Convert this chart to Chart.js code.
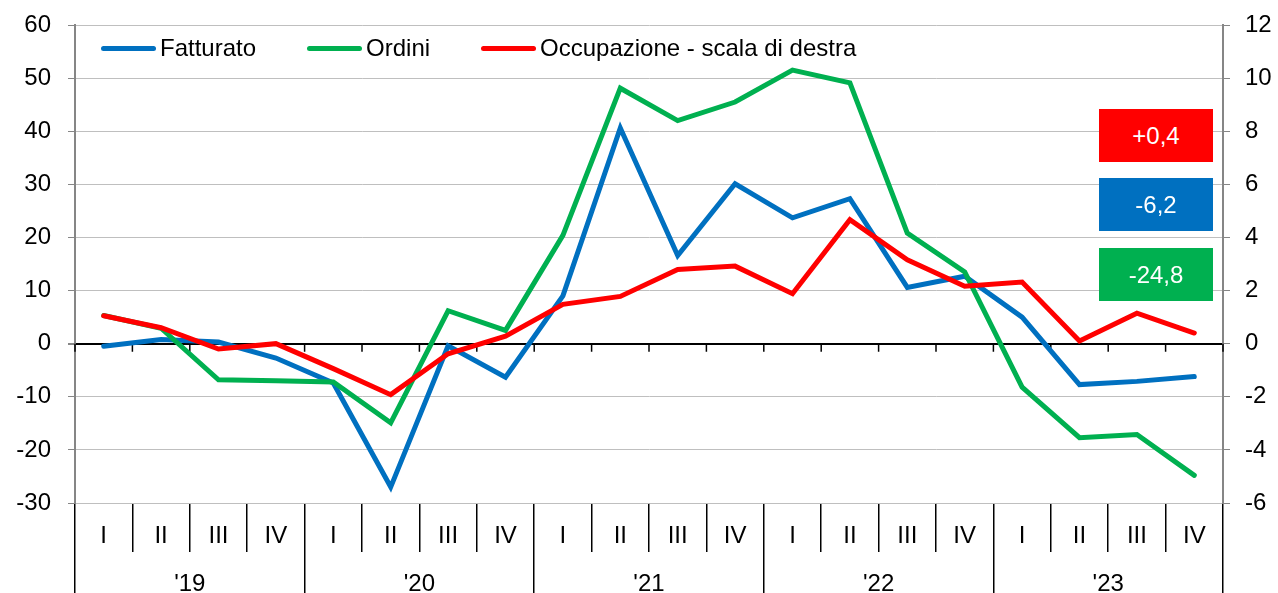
<!DOCTYPE html>
<html lang="it">
<head>
<meta charset="utf-8">
<title>Fatturato, ordini e occupazione</title>
<script src="https://cdn.jsdelivr.net/npm/chart.js@4.4.1/dist/chart.umd.min.js"></script>
<style>
  body { margin: 0; background: #fff; font-family: "Liberation Sans", Arial, sans-serif; }
  #wrap { position: relative; width: 1278px; height: 593px; }
  #legend { position: absolute; left: 101px; top: 36px; display: flex; font-size: 24px; line-height: 24px; color: #000; }
  #legend .item { display: flex; align-items: center; margin-right: 51px; }
  #legend .line { width: 55px; height: 5px; border-radius: 3px; margin-right: 4px; }
  .badge { position: absolute; left: 1099px; width: 114px; height: 53px; line-height: 53px;
           text-align: center; color: #fff; font-size: 24px; }
  .b1 { top: 109px; } .b2 { top: 178px; } .b3 { top: 248px; }
</style>
</head>
<body>
<div id="wrap">
  <canvas id="myChart"></canvas>
  <div id="legend"></div>
  <div id="badges"></div>
</div>
<script>
// trimestri e anni
const quarters = ['I','II','III','IV','I','II','III','IV','I','II','III','IV','I','II','III','IV','I','II','III','IV'];
const years = ["'19", "'20", "'21", "'22", "'23"];

// serie (scala di sinistra)
const fatturato = [-0.5, 0.8, 0.3, -2.7, -7.4, -27.0, -0.4, -6.3, 9.0, 40.6, 16.6, 30.1, 23.7, 27.3, 10.6, 12.7, 5.0, -7.7, -7.1, -6.2];
const ordini    = [5.3, 2.9, -6.8, -7.0, -7.2, -14.9, 6.2, 2.5, 20.4, 48.1, 42.0, 45.5, 51.5, 49.1, 20.8, 13.5, -8.2, -17.7, -17.1, -24.8];
// scala di destra
const occupazione = [1.05, 0.6, -0.2, 0.0, -0.94, -1.92, -0.38, 0.28, 1.48, 1.78, 2.79, 2.92, 1.88, 4.67, 3.16, 2.16, 2.32, 0.1, 1.15, 0.4];

const blue = '#0070c0', green = '#00b050', red = '#ff0000';

Chart.defaults.font.family = '"Liberation Sans", Arial, sans-serif';
Chart.defaults.font.size = 24;
Chart.defaults.color = '#000';

// piccole tacche sotto la linea dello zero
const zeroTicks = {
  id: 'zeroTicks',
  beforeDatasetsDraw(chart) {
    const xs = chart.scales.x, ys = chart.scales.y;
    const y0 = ys.getPixelForValue(0);
    const step = xs.width / quarters.length;
    const c = chart.ctx;
    c.save();
    c.strokeStyle = '#000';
    c.lineWidth = 1.5;
    c.beginPath();
    for (let i = 0; i <= quarters.length; i++) {
      const px = xs.getPixelForValue(0) - step / 2 + i * step;
      c.moveTo(px, y0);
      c.lineTo(px, y0 + 8);
    }
    c.stroke();
    c.restore();
  }
};

// larghezza fissa degli assi verticali, senza spazio extra in alto
function fixY(w) {
  return s => { s.width = w; s.paddingTop = 0; s.paddingBottom = 0; };
}

const ctx = document.getElementById('myChart');
const chart = new Chart(ctx, {
  type: 'line',
  data: {
    labels: quarters,
    datasets: [
      { label: 'Fatturato', data: fatturato, borderColor: blue, backgroundColor: blue, yAxisID: 'y', order: 3 },
      { label: 'Ordini', data: ordini, borderColor: green, backgroundColor: green, yAxisID: 'y', order: 2 },
      { label: 'Occupazione - scala di destra', data: occupazione, borderColor: red, backgroundColor: red, yAxisID: 'y1', order: 1 }
    ]
  },
  options: {
    responsive: true,
    maintainAspectRatio: false,
    animation: false,
    layout: { padding: { top: 25, left: 0, right: 0, bottom: 0 } },
    elements: {
      line: { borderWidth: 5, tension: 0, borderCapStyle: 'round' },
      point: { radius: 0 }
    },
    plugins: { legend: { display: false }, tooltip: { enabled: false } },
    scales: {
      x: {
        type: 'category', position: 'bottom', weight: 0, offset: true,
        grid: { offset: true, drawOnChartArea: false, color: '#000', lineWidth: 1.5, tickLength: 49 },
        border: { display: false },
        ticks: { autoSkip: false, maxRotation: 0, padding: -30 },
        afterFit(s) { s.height = 49; }
      },
      x2: {
        type: 'category', labels: years, position: 'bottom', weight: 1, offset: true,
        grid: { offset: true, drawOnChartArea: false, color: '#000', lineWidth: 1.5, tickLength: 41 },
        border: { display: false },
        ticks: { autoSkip: false, maxRotation: 0, padding: -23 },
        afterFit(s) { s.height = 41; }
      },
      y: {
        position: 'left', min: -30, max: 60,
        ticks: { stepSize: 10, padding: 17 },
        grid: {
          color: c => c.tick.value === 0 ? '#000' : '#bfbfbf',
          lineWidth: c => c.tick.value === 0 ? 2 : 1,
          tickColor: '#868686', tickLength: 7
        },
        border: { color: '#868686', width: 2 },
        afterFit: fixY(75)
      },
      y1: {
        position: 'right', min: -6, max: 12,
        ticks: { stepSize: 2, padding: 15 },
        grid: { drawOnChartArea: false, tickColor: '#868686', tickLength: 7 },
        border: { color: '#868686', width: 2 },
        afterFit: fixY(55)
      }
    }
  },
  plugins: [zeroTicks]
});

// legenda html
let lg = '';
chart.data.datasets.forEach(d => {
  lg += '<div class="item"><span class="line" style="background:' + d.borderColor + '"></span>' + d.label + '</div>';
});
document.getElementById('legend').innerHTML = lg;

// riquadri con l'ultimo valore
function fmt(v) { return (v > 0 ? '+' : '') + v.toFixed(1).replace('.', ','); }
const last = [[occupazione, red], [fatturato, blue], [ordini, green]];
let bx = '';
last.forEach((p, i) => {
  bx += '<div class="badge b' + (i + 1) + '" style="background:' + p[1] + '">' + fmt(p[0][p[0].length - 1]) + '</div>';
});
document.getElementById('badges').innerHTML = bx;
</script>
</body>
</html>
